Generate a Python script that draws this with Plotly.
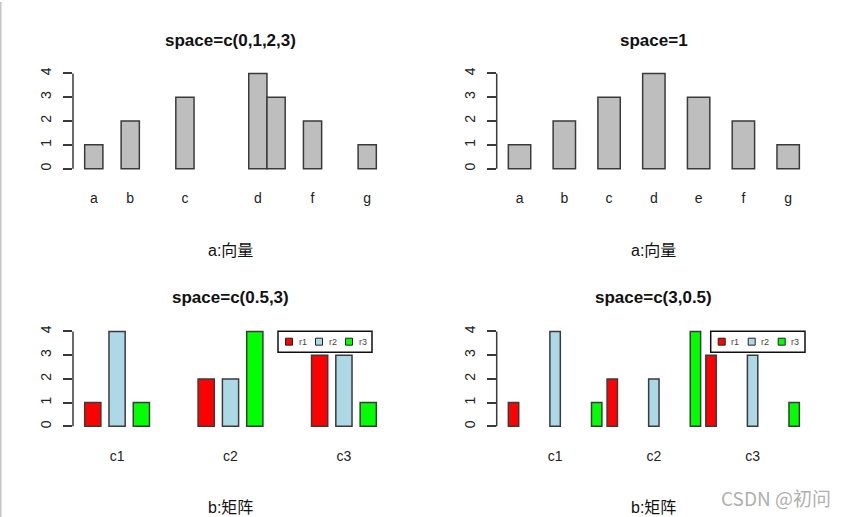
import numpy as np
import plotly.graph_objects as go

W, H = 847, 517

# ---------------- data ----------------
vec_names = ["a", "b", "c", "d", "e", "f", "g"]
vec_values = [1, 2, 3, 4, 3, 2, 1]
# R drops the "e" label in the first panel because it overlaps "d"
hidden_labels_p1 = ["e"]

mat_rows = ["r1", "r2", "r3"]
mat_cols = ["c1", "c2", "c3"]
mat_r1 = [1, 2, 3]
mat_r2 = [4, 2, 3]
mat_r3 = [1, 4, 1]
mat_values = [mat_r1, mat_r2, mat_r3]
row_colors = ["#FF0000", "#ADD8E6", "#00FF00"]

space_p1 = [0, 1, 2, 3]
space_p2 = [1]
space_p3 = [0.5, 3]
space_p4 = [3, 0.5]

titles = ["space=c(0,1,2,3)", "space=1", "space=c(0.5,3)", "space=c(3,0.5)"]
xlabels = ["a:向量", "a:向量", "b:矩阵", "b:矩阵"]
yticks = [0, 1, 2, 3, 4]

FONT = "Liberation Sans, Arial, Noto Sans CJK SC, sans-serif"
CJK = "Liberation Sans, Noto Sans CJK SC, sans-serif"
BAR_LINE = dict(color="#3a3a3a", width=1.5)


def r_geom(n, space):
    sp = np.array([space[i % len(space)] for i in range(n)], dtype=float)
    wr = np.cumsum(sp + 1.0)
    wl = wr - 1.0
    return wl, wr


def r_beside_space(nr, nc, space):
    if len(space) == 2:
        return ([space[1]] + [space[0]] * (nr - 1)) * nc
    return space


def px_x(v):
    return v / W


def px_y(v):
    return 1 - v / H


# panel pixel boxes (plot regions)
cols_px = [(73, 388), (496.7, 811)]
rows_px = [(67.9, 171.1), (326.9, 429.8)]
title_y = [39, 297]
xlab_y = [249, 507]

fig = go.Figure()
annotations = []
shapes = []

panels = [(0, 0), (0, 1), (1, 0), (1, 1)]
for k, (r, c) in enumerate(panels):
    idx = "" if k == 0 else str(k + 1)
    xa, ya = "x" + idx, "y" + idx
    xaxis_name, yaxis_name = "xaxis" + idx, "yaxis" + idx

    if k < 2:
        space = space_p1 if k == 0 else space_p2
        wl, wr = r_geom(len(vec_values), space)
        centers = (wl + wr) / 2
        fig.add_trace(go.Bar(x=centers, y=vec_values, width=1.0,
                             marker=dict(color="#BEBEBE", line=BAR_LINE),
                             xaxis=xa, yaxis=ya, showlegend=False,
                             hoverinfo="skip"))
        tickvals = list(centers)
        if k == 0:
            ticktext = ["" if n in hidden_labels_p1 else n for n in vec_names]
        else:
            ticktext = vec_names
    else:
        space = space_p3 if k == 2 else space_p4
        nr, nc = len(mat_rows), len(mat_cols)
        sp = r_beside_space(nr, nc, space)
        wl, wr = r_geom(nr * nc, sp)
        centers = ((wl + wr) / 2).reshape(nc, nr)  # column-major like R
        for ri in range(nr):
            fig.add_trace(go.Bar(x=centers[:, ri], y=mat_values[ri], width=1.0,
                                 marker=dict(color=row_colors[ri], line=BAR_LINE),
                                 name=mat_rows[ri],
                                 xaxis=xa, yaxis=ya, showlegend=False,
                                 hoverinfo="skip"))
        tickvals = list(centers.mean(axis=1))
        ticktext = mat_cols

    xmin, xmax = wl.min(), wr.max()
    ext = 0.04 * (xmax - xmin)
    x0p, x1p = cols_px[c]
    y0p, y1p = rows_px[r]

    fig.update_layout(**{
        xaxis_name: dict(domain=[px_x(x0p), px_x(x1p)],
                         range=[xmin - ext, xmax + ext], anchor=ya,
                         showgrid=False, zeroline=False, showline=False,
                         ticks="", tickvals=tickvals, ticktext=ticktext,
                         tickfont=dict(family=FONT, size=14, color="#222"),
                         ticklabelstandoff=16, fixedrange=True),
        yaxis_name: dict(domain=[px_y(y1p), px_y(y0p)],
                         range=[-0.16, 4.16], anchor=xa,
                         showgrid=False, zeroline=False, showline=False,
                         ticks="outside", ticklen=9, tickwidth=1.5,
                         tickcolor="#3a3a3a", tickvals=yticks,
                         tickangle=-90, ticklabelstandoff=6,
                         tickfont=dict(family=FONT, size=14, color="#222"),
                         fixedrange=True),
    })
    # R style y axis line from first to last tick
    shapes.append(dict(type="line", xref=xa + " domain", yref=ya,
                       x0=0, x1=0, y0=yticks[0], y1=yticks[-1],
                       line=dict(color="#3a3a3a", width=1.5)))
    xc = px_x((x0p + x1p) / 2)
    annotations.append(dict(text="<b>" + titles[k] + "</b>", x=xc, y=px_y(title_y[r]),
                            xref="paper", yref="paper", showarrow=False,
                            xanchor="center", yanchor="middle",
                            font=dict(family=FONT, size=17, color="#111")))
    annotations.append(dict(text=xlabels[k], x=xc, y=px_y(xlab_y[r]),
                            xref="paper", yref="paper", showarrow=False,
                            xanchor="center", yanchor="middle",
                            font=dict(family=CJK, size=16, color="#111")))

# legends (R style legend boxes, horizontal)
legend_boxes = [(278, 330.5, 372, 351.5), (710.7, 330.5, 805, 351.5)]
for (bx0, by0, bx1, by1) in legend_boxes:
    shapes.append(dict(type="rect", xref="paper", yref="paper",
                       x0=px_x(bx0), x1=px_x(bx1), y0=px_y(by1), y1=px_y(by0),
                       line=dict(color="#111", width=1.5), fillcolor="white"))
    cy = (by0 + by1) / 2
    for i, (nm, col) in enumerate(zip(mat_rows, row_colors)):
        sx = bx0 + 11 + 30 * i
        shapes.append(dict(type="rect", xref="paper", yref="paper",
                           x0=px_x(sx - 3.5), x1=px_x(sx + 3.5),
                           y0=px_y(cy + 3.5), y1=px_y(cy - 3.5),
                           line=dict(color="#222", width=1), fillcolor=col))
        annotations.append(dict(text=nm, x=px_x(sx + 13.5), y=px_y(cy + 0.5),
                                xref="paper", yref="paper", showarrow=False,
                                xanchor="center", yanchor="middle",
                                font=dict(family=FONT, size=9, color="#444")))

# left grey border of the screenshot
shapes.append(dict(type="line", xref="paper", yref="paper", x0=px_x(0.75), x1=px_x(0.75),
                   y0=0, y1=1, line=dict(color="#C4C4C4", width=1.5)))

# watermark
annotations.append(dict(text="CSDN @初问", x=px_x(833), y=px_y(497), xref="paper", yref="paper",
                        showarrow=False, xanchor="right", yanchor="middle",
                        font=dict(family="Noto Sans CJK SC, sans-serif", size=19, color="#B0B0B0")))

fig.update_layout(width=W, height=H, margin=dict(l=0, r=0, t=0, b=0),
                  paper_bgcolor="white", plot_bgcolor="white",
                  barmode="overlay", showlegend=False,
                  shapes=shapes, annotations=annotations)

fig.write_html("out.html", config={"displayModeBar": False})
